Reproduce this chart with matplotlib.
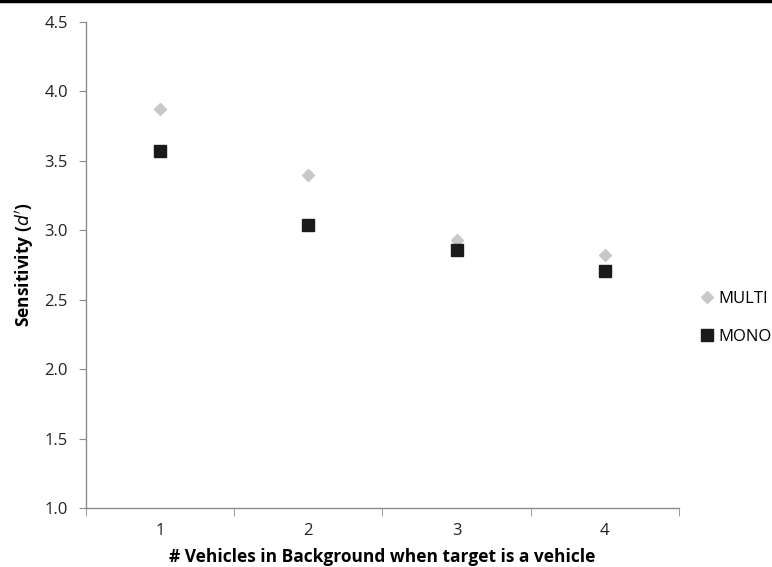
import matplotlib
matplotlib.use("Agg")
import matplotlib.pyplot as plt
from matplotlib.lines import Line2D
from matplotlib.ticker import FixedLocator

plt.rcParams['font.family'] = ['Open Sans', 'DejaVu Sans']

categories = [1, 2, 3, 4]
multi = [3.87, 3.40, 2.93, 2.82]
mono = [3.57, 3.04, 2.86, 2.71]
yticks = [1.0, 1.5, 2.0, 2.5, 3.0, 3.5, 4.0, 4.5]

fig = plt.figure(figsize=(7.72, 5.67), dpi=100)
ax = fig.add_axes([86/772, 1-508/567, (679-86)/772, (508-22)/567])

ax.plot(categories, multi, linestyle='none', marker='D', markersize=6.5,
        color='#c8c8c8', label='MULTI')
ax.plot(categories, mono, linestyle='none', marker='s', markersize=8,
        color='#1a1a1a', label='MONO')

ax.set_xlim(0.5, 4.5)
ax.set_ylim(1.0, 4.5)
ax.set_yticks(yticks)
ax.set_yticklabels([f"{v:.1f}" for v in yticks])
ax.set_xticks(categories)
ax.set_xticklabels([str(c) for c in categories])
ax.xaxis.set_minor_locator(FixedLocator([0.5, 1.5, 2.5, 3.5, 4.5]))

for s in ['top', 'right']:
    ax.spines[s].set_visible(False)
for s in ['left', 'bottom']:
    ax.spines[s].set_color('#8c8c8c')
    ax.spines[s].set_linewidth(1.0)

ax.tick_params(axis='x', which='major', length=0, pad=11, labelsize=12, colors='#222222')
ax.tick_params(axis='x', which='minor', length=6, color='#8c8c8c', direction='out')
ax.tick_params(axis='y', which='major', length=5, color='#8c8c8c', labelsize=12,
               labelcolor='#222222', pad=8)

ax.set_xlabel('# Vehicles in Background when target is a vehicle', fontsize=12.5,
              fontweight='bold', labelpad=6)
ax.set_ylabel(r"Sensitivity ($\bf{\it{d'}}$)", fontsize=12.5, fontweight='bold', labelpad=6)

leg = ax.legend(loc='center left', bbox_to_anchor=(692/772, 1-318/567),
                bbox_transform=fig.transFigure, frameon=False, fontsize=12,
                handlelength=0.8, handletextpad=0.3, labelspacing=1.3, borderpad=0)

fig.add_artist(Line2D([0, 1], [1-1/567, 1-1/567], transform=fig.transFigure,
                      color='black', linewidth=2.5))

fig.savefig('out.png', dpi=100)
